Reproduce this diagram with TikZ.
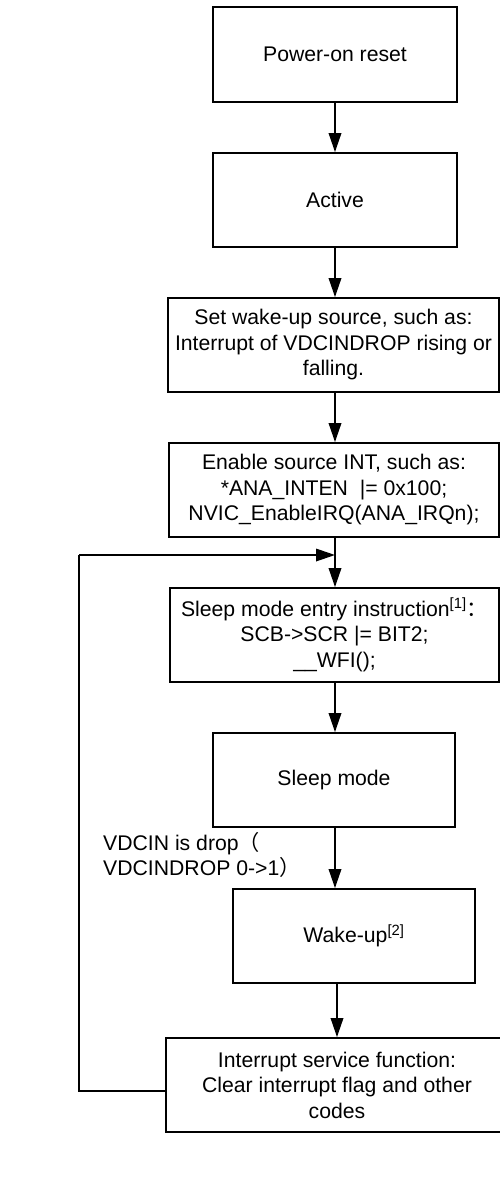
\documentclass[tikz,border=0pt]{standalone}
\usepackage{fontspec}
\setmainfont{Liberation Sans}
\newfontfamily\cjk{Noto Sans CJK SC}
\usetikzlibrary{arrows.meta}
\begin{document}
\begin{tikzpicture}[x=1pt,y=-1pt,
  every node/.style={font=\fontsize{21.2}{25.5}\selectfont},
  box/.style={draw, line width=1.8pt, rectangle, inner sep=0pt, align=center},
  flow/.style={line width=1.8pt, -{Triangle[length=19pt,width=12.5pt]}},
  link/.style={line width=1.8pt}]
\useasboundingbox (0,0) rectangle (500,1184);
\clip (0,0) rectangle (500,1184);
\fill[white] (0,0) rectangle (500,1184);

% process steps
\node[box, minimum width=244pt, minimum height=95pt] (b1) at (335,54.5) {Power-on reset};
\node[box, minimum width=244pt, minimum height=94pt] (b2) at (335,200) {Active};
\node[box, minimum width=331pt, minimum height=94pt] (b3) at (333.5,345)
  {Set wake-up source, such as:\\Interrupt of VDCINDROP rising or\\falling.};
\node[box, minimum width=330pt, minimum height=94pt] (b4) at (334,490)
  {Enable source INT, such as:\\*ANA\_INTEN\ \ |= 0x100;\\NVIC\_EnableIRQ(ANA\_IRQn);};
\node[box, minimum width=329pt, minimum height=94pt] (b5) at (334.5,635)
  {Sleep mode entry instruction\textsuperscript{[1]}{\cjk ：}\\SCB->SCR |= BIT2;\\\_\_WFI();};
\node[box, minimum width=242pt, minimum height=94pt] (b6) at (334,780) {Sleep mode};
\node[box, minimum width=242pt, minimum height=94pt] (b7) at (354,936) {Wake-up\textsuperscript{[2]}};
\node[box, minimum width=342pt, minimum height=94pt] (b8) at (337,1085)
  {Interrupt service function:\\Clear interrupt flag and other\\codes};

% wake-up condition
\node[anchor=north west, align=left, inner sep=0pt] (cond) at (103,832)
  {VDCIN is drop{\cjk （}\\VDCINDROP 0->1{\cjk ）}};

% main flow, all on the common axis
\coordinate (merge) at (335,555);
\draw[flow] (b1.south -| merge) -- (b2.north -| merge);
\draw[flow] (b2.south -| merge) -- (b3.north -| merge);
\draw[flow] (b3.south -| merge) -- (b4.north -| merge);
\draw[flow] (b4.south -| merge) -- (b5.north -| merge);
\draw[flow] (b5.south -| merge) -- (b6.north -| merge);
\draw[flow] (b6.south -| merge) -- (b7.north -| merge);
\draw[flow] (b8.north |- b7.south) -- (b8.north);

% return loop
\coordinate (out) at ([yshift=-6pt]b8.west);
\coordinate (corner) at (79,555);
\draw[link] (out) -- (corner |- out) -- (corner);
\draw[flow] (corner) -- (merge);
\end{tikzpicture}
\end{document}
